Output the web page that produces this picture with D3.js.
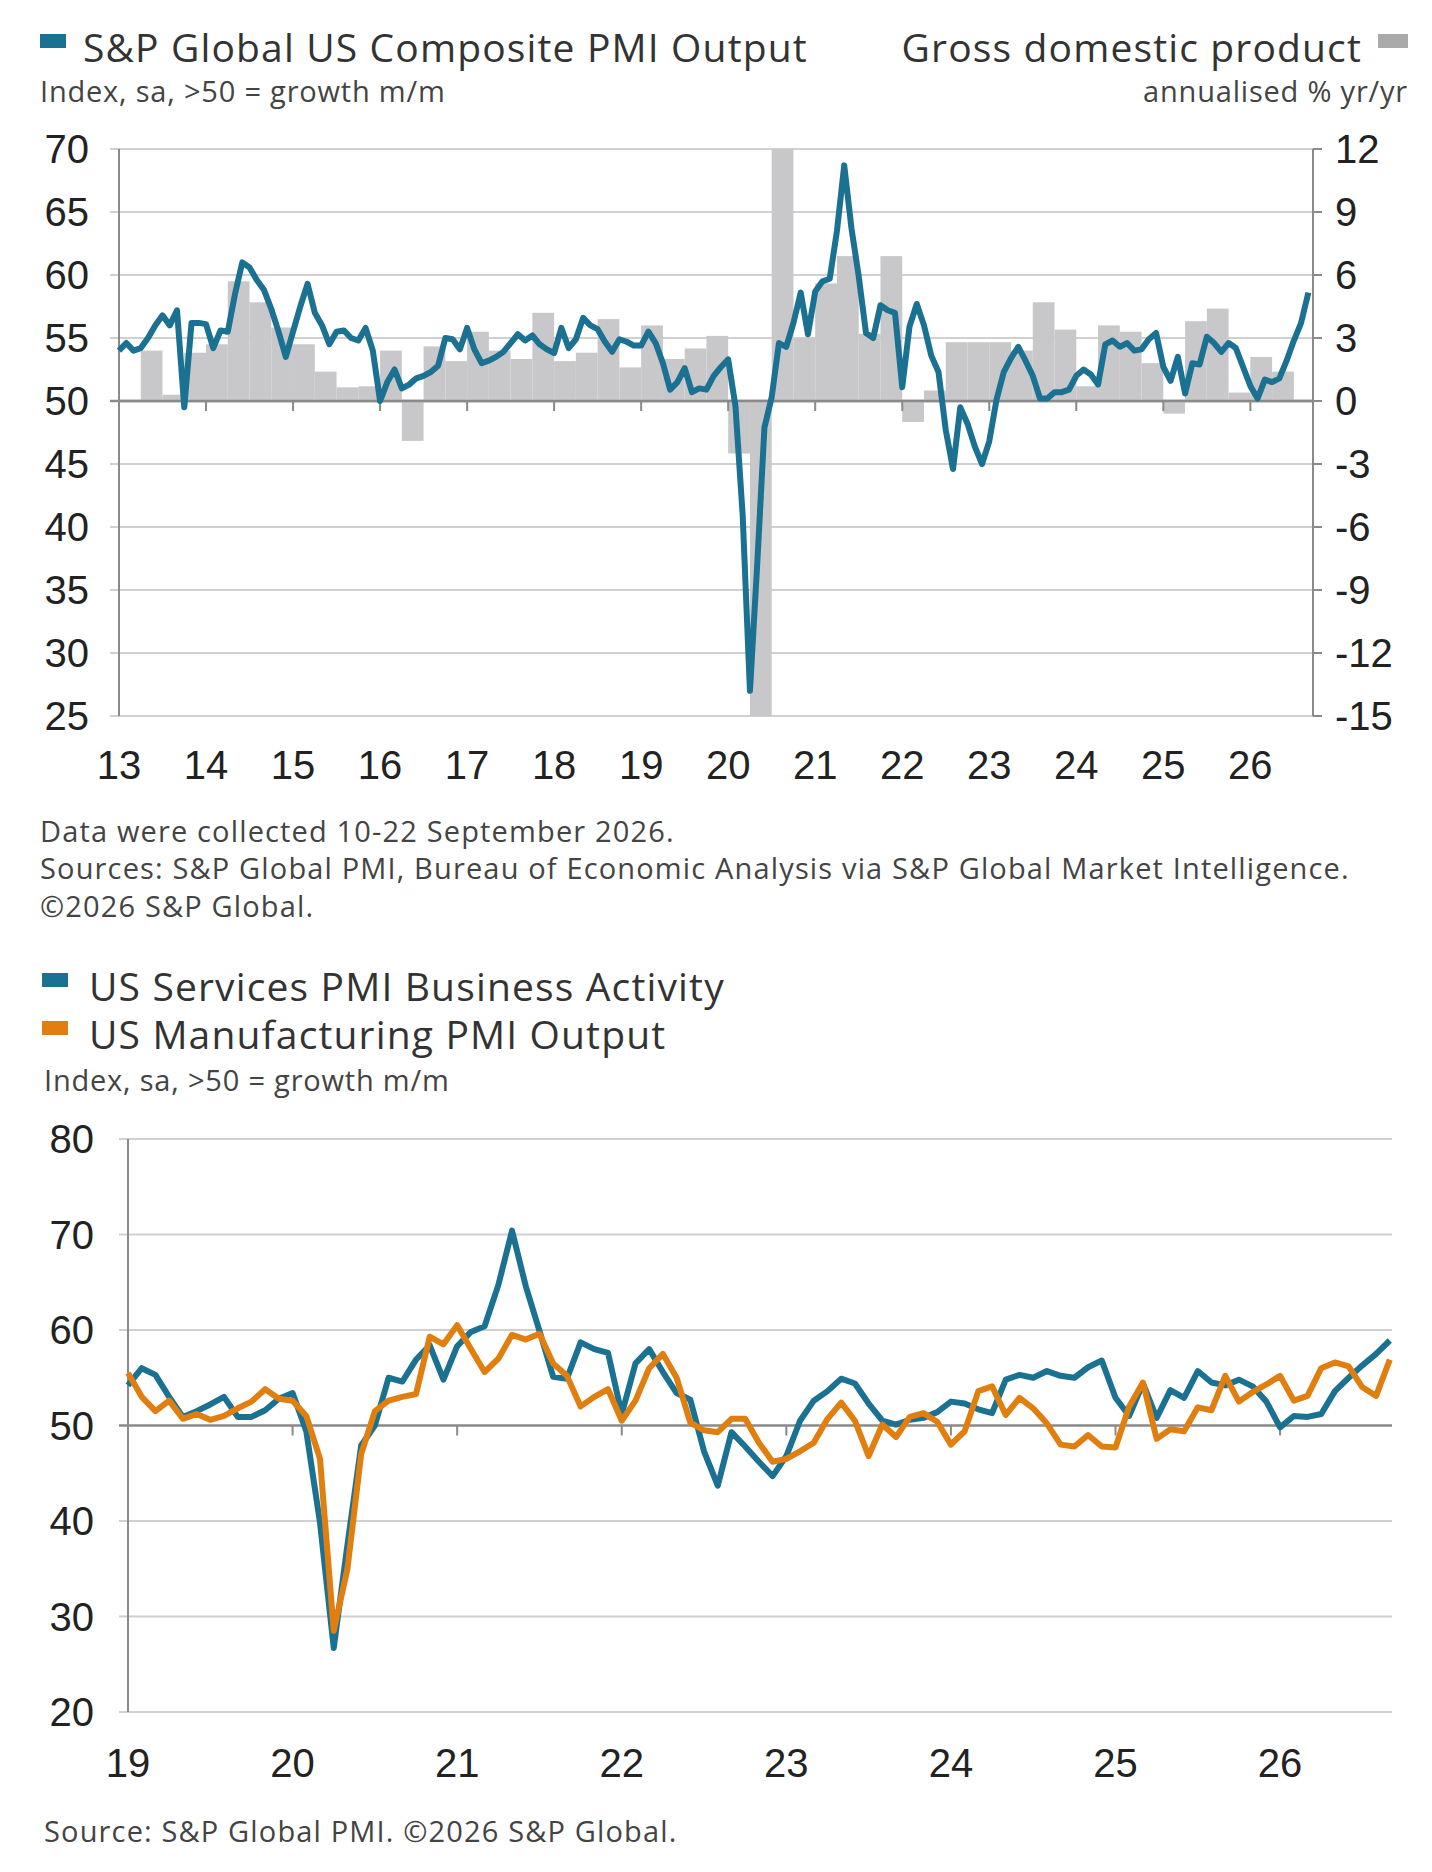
<!DOCTYPE html>
<html><head><meta charset="utf-8">
<script src="https://cdn.jsdelivr.net/npm/d3@7"></script>
<style>body{margin:0;background:#fff}svg{display:block}</style>
</head><body>
<svg id="c" width="1432" height="1872"></svg>
<script>
// ---------- Data ----------
const composite = [
54,54.6,54,54.2,55,56,56.8,56,57.2,49.5,56.2,56.2,
56.1,54.2,55.6,55.5,58.5,61,60.6,59.6,58.8,57.3,55.5,53.5,
55.5,57.5,59.3,57,56,54.5,55.5,55.6,55,54.8,55.8,54,
50.0,51.5,52.5,51.0,51.3,51.8,52.0,52.3,52.8,55.0,54.9,54.1,
55.8,54.1,53,53.2,53.5,53.9,54.6,55.3,54.8,55.2,54.5,54.1,
53.8,55.8,54.2,54.9,56.6,56,55.7,54.7,53.9,54.9,54.7,54.4,
54.4,55.5,54.6,53,50.9,51.5,52.6,50.7,51,50.9,52,52.7,
53.3,49.6,40.9,27,37,47.9,50.3,54.6,54.3,56.2,58.6,55.3,
58.7,59.5,59.7,63.5,68.7,63.7,59.9,55.4,55,57.6,57.2,57,
51.1,55.9,57.7,56,53.6,52.3,47.7,44.6,49.5,48.2,46.4,45,
46.8,50.1,52.3,53.4,54.3,53.2,52,50.2,50.2,50.7,50.7,50.9,
52,52.5,52.1,51.3,54.5,54.8,54.3,54.6,54,54.1,54.9,55.4,
52.7,51.6,53.5,50.6,53.0,52.9,55.1,54.6,53.9,54.6,54.2,52.7,
51.2,50.2,51.7,51.5,51.8,53.2,54.8,56.2,58.6];
const compositeStart = [2013, 1];

const gdpStart = [2013, 2]; // quarter
const gdp = [2.4,0.3,2.3,2.7,5.7,4.7,3.5,2.7,1.4,0.65,0.7,2.4,
-1.9,2.6,1.9,3.3,2.4,2.0,4.2,1.9,2.3,3.9,1.6,3.6,2.0,2.5,3.1,
-2.5,-15,12,3.0,5.6,6.9,3.2,6.9,
-1.0,0.5,2.8,2.8,2.8,2.4,4.7,3.4,0.7,3.6,3.3,1.8,-0.6,3.8,4.4,0.4,2.1,1.4];

const services = [
54.2,56.0,55.3,53.0,50.9,51.5,52.2,53.0,50.9,50.9,51.6,52.8,
53.4,49.4,39.8,26.7,37.5,47.9,50.0,55.0,54.6,56.9,58.4,54.8,
58.3,59.8,60.4,64.7,70.4,64.6,59.9,55.1,54.9,58.7,58.0,57.6,
51.2,56.5,58.0,55.6,53.4,52.7,47.3,43.7,49.3,47.8,46.2,44.7,
46.8,50.5,52.6,53.6,54.9,54.4,52.3,50.5,50.1,50.6,50.8,51.4,
52.5,52.3,51.7,51.3,54.8,55.3,55.0,55.7,55.2,55.0,56.1,56.8,
52.9,51.0,54.4,50.8,53.7,52.9,55.7,54.5,54.2,54.8,54.1,52.5,
49.8,51.0,50.9,51.2,53.6,55.0,56.3,57.5,58.9];
const manufacturing = [
55.5,53.0,51.5,52.6,50.7,51.2,50.6,51.0,51.8,52.5,53.8,52.8,
52.6,51.0,46.5,28.5,35,47.0,51.5,52.6,53.0,53.3,59.3,58.5,
60.5,58.0,55.6,57.0,59.5,59.0,59.6,56.5,55.2,52.0,53.0,53.8,
50.5,52.6,56.0,57.5,55.0,50.3,49.5,49.3,50.7,50.7,48.2,46.2,
46.5,47.3,48.2,50.7,52.4,50.5,46.8,50.1,48.8,50.9,51.3,50.4,
48.0,49.4,53.6,54.1,51.1,52.9,51.8,50.2,48.0,47.8,49.0,47.8,
47.7,52.0,54.5,48.6,49.6,49.4,51.9,51.6,55.2,52.5,53.5,54.3,
55.2,52.6,53.1,56.0,56.6,56.2,54.0,53.1,56.9];
const bottomStart = [2019, 1];

const topLeftTicks = [25,30,35,40,45,50,55,60,65,70];
const topRightTicks = [-15,-12,-9,-6,-3,0,3,6,9,12];
const topYears = [2013,2014,2015,2016,2017,2018,2019,2020,2021,2022,2023,2024,2025,2026];
const botTicks = [20,30,40,50,60,70,80];
const botYears = [2019,2020,2021,2022,2023,2024,2025,2026];

// ---------- Drawing ----------
const svg = d3.select("#c");
const TEAL = "#1b7191", ORANGE = "#e07f10", BAR = "#c8c8ca", GRID = "#d0d0d0", AXIS = "#8a8a8a";
const tickFont = "'Liberation Sans Narrow','Liberation Sans',Arial,sans-serif";
const txtFont = "'Open Sans','Liberation Sans',sans-serif";
const mdate = (start, i) => start[0] + (start[1] - 1 + i) / 12;

function text(x, y, s, size, anchor, color, font, ls) {
  svg.append("text").attr("x", x).attr("y", y).attr("font-size", size)
    .attr("font-family", font || txtFont).attr("fill", color || "#333")
    .attr("letter-spacing", ls == null ? 1.15 : ls)
    .attr("text-anchor", anchor || "start").text(s);
}

// ---- Top chart ----
{
  const L = 119, R = 1313, T = 149, B = 716;
  const x = d3.scaleLinear().domain([2013, 2026.72]).range([L, R]);
  const y = d3.scaleLinear().domain([25, 70]).range([B, T]);
  const y2 = d3.scaleLinear().domain([-15, 12]).range([B, T]);
  const g = svg.append("g");
  topLeftTicks.forEach(v => {
    g.append("line").attr("x1", L - 9).attr("x2", R).attr("y1", y(v)).attr("y2", y(v))
      .attr("stroke", v === 50 ? AXIS : GRID).attr("stroke-width", v === 50 ? 2.5 : 2);
  });
  g.selectAll("rect.gdp").data(gdp).join("rect")
    .attr("x", (d, i) => x(gdpStart[0] + (gdpStart[1] - 1 + i) / 4))
    .attr("width", (d, i) => x(gdpStart[0] + (gdpStart[1] + i) / 4) - x(gdpStart[0] + (gdpStart[1] - 1 + i) / 4))
    .attr("y", d => y2(Math.max(0, d))).attr("height", d => Math.abs(y2(d) - y2(0)))
    .attr("fill", BAR);
  g.append("line").attr("x1", L).attr("x2", R).attr("y1", y(50)).attr("y2", y(50)).attr("stroke", AXIS).attr("stroke-width", 2.5);
  g.append("line").attr("x1", L).attr("x2", L).attr("y1", T).attr("y2", B).attr("stroke", AXIS).attr("stroke-width", 2);
  g.append("line").attr("x1", R).attr("x2", R).attr("y1", T).attr("y2", B).attr("stroke", AXIS).attr("stroke-width", 2);
  topRightTicks.forEach(v => {
    g.append("line").attr("x1", R).attr("x2", R + 9).attr("y1", y2(v)).attr("y2", y2(v)).attr("stroke", AXIS).attr("stroke-width", 2);
    text(R + 22, y2(v) + 14, v, 40, "start", "#222", tickFont, 0);
  });
  topLeftTicks.forEach(v => text(L - 30, y(v) + 14, v, 40, "end", "#222", tickFont, 0));
  topYears.forEach(yr => {
    g.append("line").attr("x1", x(yr)).attr("x2", x(yr)).attr("y1", y(50)).attr("y2", y(50) + 10).attr("stroke", AXIS).attr("stroke-width", 2);
    text(x(yr), 779, String(yr).slice(2), 40, "middle", "#222", tickFont, 0);
  });
  const line = d3.line().x((d, i) => x(mdate(compositeStart, i))).y(d => y(d));
  g.append("path").attr("d", line(composite)).attr("fill", "none").attr("stroke", TEAL)
    .attr("stroke-width", 6).attr("stroke-linejoin", "round");
  svg.append("rect").attr("x", 40).attr("y", 34).attr("width", 26).attr("height", 14).attr("fill", TEAL);
  text(83, 62, "S&P Global US Composite PMI Output", 39, "start", "#333");
  text(40, 102, "Index, sa, >50 = growth m/m", 29, "start", "#444", null, 0.8);
  text(1362, 62, "Gross domestic product", 39, "end", "#333");
  svg.append("rect").attr("x", 1378).attr("y", 34).attr("width", 30).attr("height", 14).attr("fill", "#aaa");
  text(1408, 102, "annualised % yr/yr", 29, "end", "#444", null, 0.8);
  text(40, 842, "Data were collected 10-22 September 2026.", 29, "start", "#444");
  text(40, 879, "Sources: S&P Global PMI, Bureau of Economic Analysis via S&P Global Market Intelligence.", 29, "start", "#444");
  text(40, 917, "©2026 S&P Global.", 29, "start", "#444");
}

// ---- Bottom chart ----
{
  const L = 128, R = 1392, T = 1139, B = 1712;
  const x = d3.scaleLinear().domain([2019, 2026.68]).range([L, R]);
  const y = d3.scaleLinear().domain([20, 80]).range([B, T]);
  const g = svg.append("g");
  botTicks.forEach(v => {
    g.append("line").attr("x1", L - 9).attr("x2", R).attr("y1", y(v)).attr("y2", y(v))
      .attr("stroke", v === 50 ? AXIS : GRID).attr("stroke-width", v === 50 ? 2.5 : 2);
    text(L - 34, y(v) + 14, v, 40, "end", "#222", tickFont, 0);
  });
  g.append("line").attr("x1", L).attr("x2", L).attr("y1", T).attr("y2", B).attr("stroke", AXIS).attr("stroke-width", 2);
  botYears.forEach(yr => {
    g.append("line").attr("x1", x(yr)).attr("x2", x(yr)).attr("y1", y(50)).attr("y2", y(50) + 10).attr("stroke", AXIS).attr("stroke-width", 2);
    text(x(yr), 1777, String(yr).slice(2), 40, "middle", "#222", tickFont, 0);
  });
  const line = d3.line().x((d, i) => x(mdate(bottomStart, i))).y(d => y(d));
  g.append("path").attr("d", line(services)).attr("fill", "none").attr("stroke", TEAL).attr("stroke-width", 6).attr("stroke-linejoin", "round");
  g.append("path").attr("d", line(manufacturing)).attr("fill", "none").attr("stroke", ORANGE).attr("stroke-width", 6).attr("stroke-linejoin", "round");
  svg.append("rect").attr("x", 42).attr("y", 973).attr("width", 26).attr("height", 14).attr("fill", TEAL);
  text(89, 1001, "US Services PMI Business Activity", 39, "start", "#333");
  svg.append("rect").attr("x", 42).attr("y", 1021).attr("width", 26).attr("height", 14).attr("fill", ORANGE);
  text(89, 1049, "US Manufacturing PMI Output", 39, "start", "#333");
  text(44, 1091, "Index, sa, >50 = growth m/m", 29, "start", "#444", null, 0.8);
  text(44, 1842, "Source: S&P Global PMI. ©2026 S&P Global.", 29, "start", "#444");
}
</script>
</body></html>
